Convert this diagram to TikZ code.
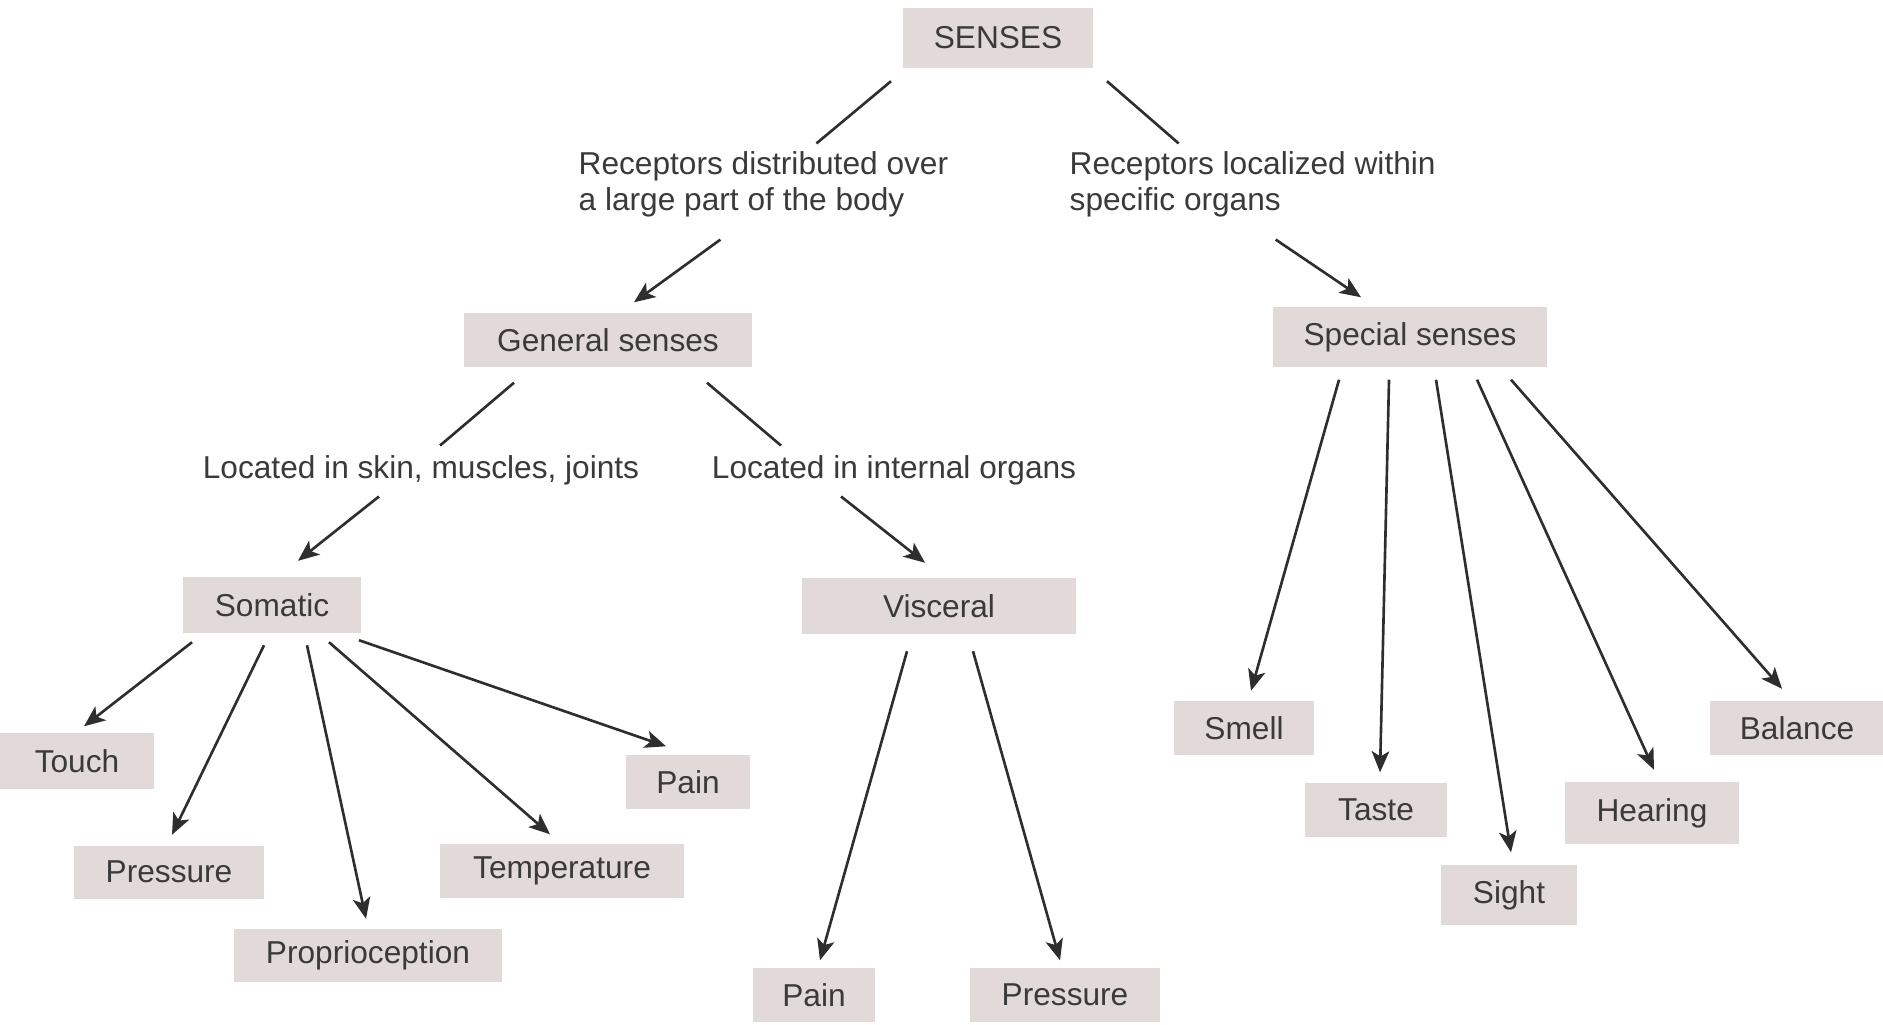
\documentclass[tikz,border=0pt]{standalone}
\usepackage{fontspec}
\setmainfont{Liberation Sans}
\usetikzlibrary{calc,arrows.meta}
\definecolor{boxfill}{RGB}{226,218,216}
\definecolor{inkgray}{RGB}{58,58,58}
\tikzset{
    sensebox/.style={rectangle, fill=boxfill, inner sep=0pt, minimum height=0.54cm, text=inkgray, font=\fontsize{9}{10.3}\selectfont},
    branchlabel/.style={inner sep=0pt, align=left, text=inkgray, font=\fontsize{9}{10.3}\selectfont},
    link/.style={draw=inkgray!80!black, line width=0.75pt},
    arrowlink/.style={link, -{Stealth[length=6pt, width=5pt, inset=1.5pt]}}
}

\begin{document}
\begin{tikzpicture}[x=0.01cm, y=-0.01cm]
        \useasboundingbox (0,0) rectangle (1883,1024);

        % Top
        \node (senses) [sensebox, minimum width=1.90cm, minimum height=0.59cm] at (998,38) {SENSES};
        \node (distrib) [branchlabel, anchor=west] at (578,184) {Receptors distributed over\\a large part of the body};
        \node (localized) [branchlabel, anchor=west] at (1069,184) {Receptors localized within\\specific organs};

        % Second level
        \node (general) [sensebox, minimum width=2.87cm] at (608,340) {General senses};
        \node (special) [sensebox, minimum width=2.74cm, minimum height=0.60cm] at (1410,337) {Special senses};

        \node (skin) [branchlabel] at (421,470) {Located in skin, muscles, joints};
        \node (internal) [branchlabel] at (894,470) {Located in internal organs};

        \node (somatic) [sensebox, minimum width=1.78cm, minimum height=0.55cm] at (272,605) {Somatic};
        \node (visceral) [sensebox, minimum width=2.74cm, minimum height=0.55cm] at (939,606) {Visceral};

        % Somatic senses
        \node (touch) [sensebox, minimum width=1.54cm, minimum height=0.56cm] at (77,761) {Touch};
        \node (pressureS) [sensebox, minimum width=1.89cm, minimum height=0.53cm] at (169,872) {Pressure};
        \node (proprio) [sensebox, minimum width=2.67cm, minimum height=0.53cm] at (368,955) {Proprioception};
        \node (temp) [sensebox, minimum width=2.44cm] at (562,871) {Temperature};
        \node (painS) [sensebox, minimum width=1.23cm] at (688,782) {Pain};

        % Visceral senses
        \node (painV) [sensebox, minimum width=1.22cm] at (814,995) {Pain};
        \node (pressureV) [sensebox, minimum width=1.90cm] at (1065,995) {Pressure};

        % Special senses
        \node (smell) [sensebox, minimum width=1.40cm, minimum height=0.53cm] at (1244,728) {Smell};
        \node (taste) [sensebox, minimum width=1.41cm] at (1376,810) {Taste};
        \node (sight) [sensebox, minimum width=1.36cm, minimum height=0.60cm] at (1509,895) {Sight};
        \node (hearing) [sensebox, minimum width=1.73cm, minimum height=0.61cm] at (1652,813) {Hearing};
        \node (balance) [sensebox, minimum width=1.73cm, minimum height=0.53cm] at (1797,728) {Balance};

        % Upper branches
        \draw[link] ($(senses.south)+(-107,13)$) -- ($(distrib.north)+(53,-7)$);
        \draw[arrowlink] ($(distrib.south)+(-43,22)$) -- ($(general.north)+(26,-10)$);
        \draw[link] ($(senses.south)+(109,13)$) -- ($(localized.north)+(-74,-7)$);
        \draw[arrowlink] ($(localized.south)+(23,22)$) -- ($(special.north)+(-49,-9)$);

        \draw[link] ($(general.south)+(-94,15)$) -- ($(skin.north)+(19,-9)$);
        \draw[arrowlink] ($(skin.south)+(-42,11)$) -- ($(somatic.north)+(26,-16)$);
        \draw[link] ($(general.south)+(99,15)$) -- ($(internal.north)+(-113,-9)$);
        \draw[arrowlink] ($(internal.south)+(-53,11)$) -- ($(visceral.north)+(-14,-15)$);

        % Somatic fan
        \draw[arrowlink] ($(somatic.south)+(-80,9)$) -- ($(touch.north)+(7,-6)$);
        \draw[arrowlink] ($(somatic.south)+(-8,12)$) -- ($(pressureS.north)+(3,-10)$);
        \draw[arrowlink] ($(somatic.south)+(35,12)$) -- ($(proprio.north)+(-2,-9)$);
        \draw[arrowlink] ($(somatic.south)+(57,9)$) -- ($(temp.north)+(-12,-9)$);
        \draw[arrowlink] ($(somatic.south)+(87,7)$) -- ($(painS.north)+(-22,-8)$);

        % Visceral fan
        \draw[arrowlink] ($(visceral.south)+(-32,17)$) -- ($(painV.north)+(6,-7)$);
        \draw[arrowlink] ($(visceral.south)+(34,17)$) -- ($(pressureV.north)+(-5,-7)$);

        % Special fan
        \draw[arrowlink] ($(special.south)+(-71,12)$) -- ($(smell.north)+(7,-10)$);
        \draw[arrowlink] ($(special.south)+(-21,12)$) -- ($(taste.north)+(4,-10)$);
        \draw[arrowlink] ($(special.south)+(26,12)$) -- ($(sight.north)+(2,-12)$);
        \draw[arrowlink] ($(special.south)+(67,12)$) -- ($(hearing.north)+(2,-12)$);
        \draw[arrowlink] ($(special.south)+(101,12)$) -- ($(balance.north)+(-15,-12)$);

\end{tikzpicture}
\end{document}
